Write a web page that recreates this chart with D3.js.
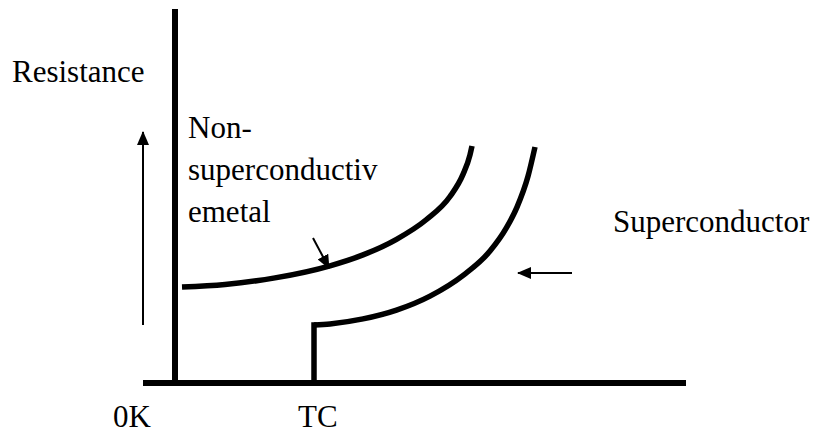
<!DOCTYPE html>
<html>
<head>
<meta charset="utf-8">
<script src="https://cdn.jsdelivr.net/npm/d3@7"></script>
<style>
  html, body { margin:0; padding:0; background:#fff; }
</style>
</head>
<body>
<div id="chart"></div>
<script>
// ---- data (temperature T, resistance R, arbitrary units) ----
const nonSuperT = [1.4, 10, 20, 31, 37.6, 44.3, 50.3, 55, 57.6, 59, 59.4];
const nonSuperR = [38.4, 39.44, 42.04, 46.88, 51.24, 57.48, 65.4, 74.6, 83.44, 91.28, 94.8];

const tc = 27.8;                       // critical temperature
const superT = [27.8, 31, 37.6, 44.3, 51, 57.7, 63, 66.3, 68.4, 70.6, 72];
const superR = [23.2, 23.64, 25.64, 29.16, 34.76, 43.16, 52.76, 62.12, 70.36, 82.68, 94.4];

const axisT = [-6.4, 102.2];           // extent of temperature axis
const axisR = [-1.2, 149.6];           // extent of resistance axis

const tickLabels = [{t:0, text:"0K", dx:-62}, {t:tc, text:"TC", dx:-16}];

// annotation arrows: [from, to] in data units
const arrows = [
  {from:[-6.4, 23.2], to:[-6.4, 100.4], w:2},
  {from:[27.6, 58],   to:[30.8, 46],    w:2},
  {from:[79.4, 44],   to:[68.6, 44],    w:2}
];

const notes = [
  {t:-32.6, r:120.4, lines:["Resistance"]},
  {t:2.6,   r:98,    lines:["Non-", "superconductiv", "emetal"]},
  {t:87.6,  r:60.4,  lines:["Superconductor"]}
];

// ---- setup ----
const width = 818, height = 436;
const FONT = '"Liberation Serif", "Times New Roman", Times, serif';
const x = d3.scaleLinear().domain([0, 100]).range([175, 675]);
const y = d3.scaleLinear().domain([0, 100]).range([383, 133]);

const svg = d3.select("#chart").append("svg")
  .attr("width", width).attr("height", height);

svg.append("defs").append("marker")
  .attr("id", "head")
  .attr("markerUnits", "userSpaceOnUse")
  .attr("viewBox", "0 -6 14 12")
  .attr("refX", 13).attr("refY", 0)
  .attr("markerWidth", 14).attr("markerHeight", 12)
  .attr("orient", "auto")
  .append("path")
  .attr("d", "M0,-6L14,0L0,6Z")
  .attr("fill", "#000");

// ---- axes ----
svg.append("line")
  .attr("x1", x(axisT[0])).attr("x2", x(axisT[1]))
  .attr("y1", y(0)).attr("y2", y(0))
  .attr("stroke", "#000").attr("stroke-width", 6);

svg.append("line")
  .attr("x1", x(0)).attr("x2", x(0))
  .attr("y1", y(axisR[0])).attr("y2", y(axisR[1]))
  .attr("stroke", "#000").attr("stroke-width", 6);

// ---- curves ----
const line = d3.line()
  .x(d => x(d[0])).y(d => y(d[1]))
  .curve(d3.curveMonotoneX);

svg.append("path")
  .datum(d3.zip(nonSuperT, nonSuperR))
  .attr("d", line)
  .attr("fill", "none").attr("stroke", "#000").attr("stroke-width", 5.5);

// superconductor: vertical drop at Tc then the curve
svg.append("line")
  .attr("x1", x(tc)).attr("x2", x(tc))
  .attr("y1", y(0)).attr("y2", y(superR[0]))
  .attr("stroke", "#000").attr("stroke-width", 5.5)
  .attr("stroke-linecap", "square");

svg.append("path")
  .datum(d3.zip(superT, superR))
  .attr("d", line)
  .attr("fill", "none").attr("stroke", "#000").attr("stroke-width", 5.5);

// ---- arrows ----
svg.selectAll("line.arrow")
  .data(arrows)
  .enter().append("line")
  .attr("class", "arrow")
  .attr("x1", d => x(d.from[0])).attr("y1", d => y(d.from[1]))
  .attr("x2", d => x(d.to[0])).attr("y2", d => y(d.to[1]))
  .attr("stroke", "#000").attr("stroke-width", d => d.w)
  .attr("marker-end", "url(#head)");

// ---- tick labels ----
svg.selectAll("text.tick")
  .data(tickLabels)
  .enter().append("text")
  .attr("class", "tick")
  .attr("x", d => x(d.t) + d.dx)
  .attr("y", 427)
  .attr("font-family", FONT).attr("font-size", 31)
  .text(d => d.text);

// ---- notes ----
notes.forEach(n => {
  const t = svg.append("text").attr("x", x(n.t)).attr("y", y(n.r))
    .attr("font-family", FONT).attr("font-size", 31);
  n.lines.forEach((s, i) => {
    t.append("tspan").attr("x", x(n.t)).attr("dy", i ? 42 : 0).text(s);
  });
});
</script>
</body>
</html>
